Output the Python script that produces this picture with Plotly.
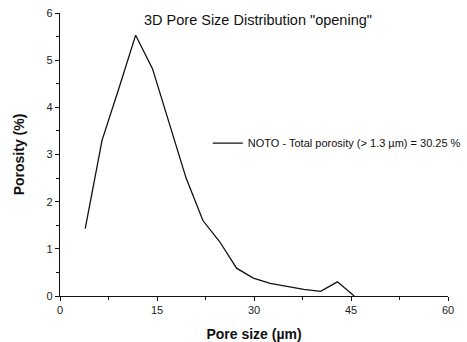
import plotly.graph_objects as go

# Pore diameters (µm) and porosity fraction (%) per size class
pore_size = [3.9, 6.5, 9.1, 11.7, 14.3, 16.9, 19.5, 22.1, 24.7, 27.3,
             29.9, 32.5, 35.1, 37.7, 40.3, 42.9, 45.5]
porosity = [1.43, 3.30, 4.40, 5.53, 4.82, 3.65, 2.50, 1.60, 1.15, 0.59,
            0.38, 0.27, 0.21, 0.14, 0.10, 0.30, 0.00]

series_name = "NOTO - Total porosity (> 1.3 \u00b5m) = 30.25 %"
chart_title = "3D Pore Size Distribution \"opening\""
x_title = "Pore size (\u00b5m)"
y_title = "Porosity (%)"

FONT = "Liberation Sans, Arial, sans-serif"

fig = go.Figure()
fig.add_trace(go.Scatter(
    x=pore_size, y=porosity, mode="lines", name=series_name,
    line=dict(color="#111111", width=1.3),
    showlegend=True,
))

axis_common = dict(
    showgrid=False, zeroline=False, showline=True, linecolor="#111111",
    linewidth=1.3, ticks="outside", ticklen=4, tickwidth=1.2,
    tickcolor="#111111", tickfont=dict(family=FONT, size=11, color="#222222"),
    mirror=False, automargin=False,
)

fig.update_layout(
    width=467, height=342,
    margin=dict(l=60, r=19, t=13, b=46, autoexpand=False),
    paper_bgcolor="white", plot_bgcolor="white",
    font=dict(family=FONT, color="#111111"),
    showlegend=True,
    legend=dict(x=0.381, y=0.54, xanchor="left", yanchor="middle",
                bgcolor="rgba(0,0,0,0)", borderwidth=0,
                font=dict(family=FONT, size=11, color="#111111"),
                itemwidth=30, tracegroupgap=0),
    xaxis=dict(range=[0, 60], tickvals=[0, 15, 30, 45, 60],
               minor=dict(ticks="outside", ticklen=3, tickwidth=1.2,
                          tickcolor="#111111", dtick=7.5, tick0=0),
               title=dict(text="<b>" + x_title + "</b>",
                          font=dict(family=FONT, size=14, color="#111111"),
                          standoff=13),
               **axis_common),
    yaxis=dict(range=[0, 6], tickvals=[0, 1, 2, 3, 4, 5, 6],
               minor=dict(ticks="outside", ticklen=3, tickwidth=1.2,
                          tickcolor="#111111", dtick=0.5, tick0=0),
               title=dict(text="<b>" + y_title + "</b>",
                          font=dict(family=FONT, size=14, color="#111111"),
                          standoff=18),
               **axis_common),
)

fig.add_annotation(
    text=chart_title, xref="paper", yref="paper", x=0.51, y=0.975,
    xanchor="center", yanchor="middle", showarrow=False,
    font=dict(family=FONT, size=14.5, color="#111111"),
)

fig.write_html("out.html")
